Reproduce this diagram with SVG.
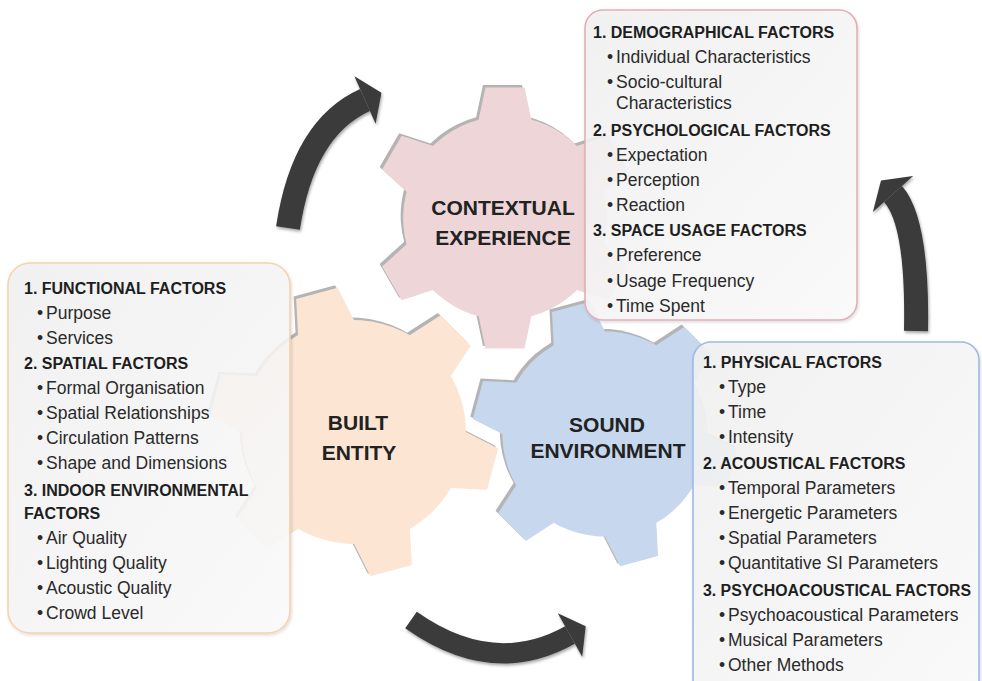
<svg xmlns="http://www.w3.org/2000/svg" xmlns:xlink="http://www.w3.org/1999/xlink" width="982" height="681" viewBox="0 0 982 681">
<style>
.h{font-family:"Liberation Sans",Arial,sans-serif;font-weight:bold;font-size:16px;fill:#1e1e1e}
.i{font-family:"Liberation Sans",Arial,sans-serif;font-size:17.5px;fill:#2a2a2a}
.g{font-family:"Liberation Sans",Arial,sans-serif;font-weight:bold;font-size:21px;fill:#222;text-anchor:middle}
.shaft{fill:none;stroke:#3a3a3a}
.head{fill:#3a3a3a}
.box{stroke-width:1.6}
</style>
<defs>
<g id="gear">
<circle r="108"/>
<polygon id="tooth" points="90,-31 138.5,-20.7 138.5,20.7 90,31"/>
<use href="#tooth" transform="rotate(60)"/>
<use href="#tooth" transform="rotate(120)"/>
<use href="#tooth" transform="rotate(180)"/>
<use href="#tooth" transform="rotate(240)"/>
<use href="#tooth" transform="rotate(300)"/>
</g>
<linearGradient id="boxfill" x1="0" y1="0" x2="1" y2="1">
<stop offset="0" stop-color="#f1f1f1"/>
<stop offset="1" stop-color="#fbfbfb"/>
</linearGradient>
<filter id="ash" x="-20%" y="-20%" width="140%" height="140%">
<feDropShadow dx="1" dy="2" stdDeviation="1.6" flood-color="#000" flood-opacity="0.35"/>
</filter>
<filter id="bsh" x="-5%" y="-5%" width="110%" height="110%">
<feDropShadow dx="1" dy="1.5" stdDeviation="1.5" flood-color="#000" flood-opacity="0.15"/>
</filter>
</defs>
<rect width="982" height="681" fill="#ffffff"/>

<g id="gear-contextual">
<use href="#gear" transform="translate(502.5,215.5) rotate(30) scale(0.943)" fill="#b4b4b4"/>
<use href="#gear" transform="translate(505,218) rotate(30) scale(0.943)" fill="#eed6d8"/>
<text class="g" x="503" y="215">CONTEXTUAL</text>
<text class="g" x="503" y="245">EXPERIENCE</text>
</g>

<g id="gear-built">
<use href="#gear" transform="translate(351.5,429.5) rotate(15) scale(1.036)" fill="#b4b4b4"/>
<use href="#gear" transform="translate(354,432) rotate(15) scale(1.036)" fill="#fce5d2"/>
<text class="g" x="358" y="430">BUILT</text>
<text class="g" x="359" y="460">ENTITY</text>
</g>

<g id="gear-sound">
<use href="#gear" transform="translate(602.5,431.5) rotate(15) scale(0.95)" fill="#b4b4b4"/>
<use href="#gear" transform="translate(605,434) rotate(15) scale(0.95)" fill="#c6d7ee"/>
<text class="g" x="607" y="432">SOUND</text>
<text class="g" x="608" y="458">ENVIRONMENT</text>
</g>

<g id="box-contextual">
<rect class="box" x="585" y="10" width="272" height="310" rx="18" fill="url(#boxfill)" fill-opacity="0.88" stroke="#e4adb6" filter="url(#bsh)"/>
<text class="h" x="593" y="38">1. DEMOGRAPHICAL FACTORS</text>
<text class="i" x="607" y="63">•<tspan x="616">Individual Characteristics</tspan></text>
<text class="i" x="607" y="88">•<tspan x="616">Socio-cultural</tspan></text>
<text class="i" x="616" y="109">Characteristics</text>
<text class="h" x="593" y="136">2. PSYCHOLOGICAL FACTORS</text>
<text class="i" x="607" y="161">•<tspan x="616">Expectation</tspan></text>
<text class="i" x="607" y="186">•<tspan x="616">Perception</tspan></text>
<text class="i" x="607" y="211">•<tspan x="616">Reaction</tspan></text>
<text class="h" x="593" y="236">3. SPACE USAGE FACTORS</text>
<text class="i" x="607" y="261">•<tspan x="616">Preference</tspan></text>
<text class="i" x="607" y="287">•<tspan x="616">Usage Frequency</tspan></text>
<text class="i" x="607" y="312">•<tspan x="616">Time Spent</tspan></text>
</g>

<g id="box-built">
<rect class="box" x="8" y="263" width="282" height="370" rx="22" fill="url(#boxfill)" fill-opacity="0.88" stroke="#f6d2ad" filter="url(#bsh)"/>
<text class="h" x="24" y="294">1. FUNCTIONAL FACTORS</text>
<text class="i" x="37" y="319">•<tspan x="46">Purpose</tspan></text>
<text class="i" x="37" y="344">•<tspan x="46">Services</tspan></text>
<text class="h" x="24" y="369">2. SPATIAL FACTORS</text>
<text class="i" x="37" y="394">•<tspan x="46">Formal Organisation</tspan></text>
<text class="i" x="37" y="419">•<tspan x="46">Spatial Relationships</tspan></text>
<text class="i" x="37" y="444">•<tspan x="46">Circulation Patterns</tspan></text>
<text class="i" x="37" y="469">•<tspan x="46">Shape and Dimensions</tspan></text>
<text class="h" x="24" y="496">3. INDOOR ENVIRONMENTAL</text>
<text class="h" x="24" y="519">FACTORS</text>
<text class="i" x="37" y="544">•<tspan x="46">Air Quality</tspan></text>
<text class="i" x="37" y="569">•<tspan x="46">Lighting Quality</tspan></text>
<text class="i" x="37" y="594">•<tspan x="46">Acoustic Quality</tspan></text>
<text class="i" x="37" y="619">•<tspan x="46">Crowd Level</tspan></text>
</g>

<g id="box-sound">
<rect class="box" x="693" y="342" width="286" height="360" rx="18" fill="url(#boxfill)" fill-opacity="0.88" stroke="#9dbbe3" filter="url(#bsh)"/>
<text class="h" x="703" y="368">1. PHYSICAL FACTORS</text>
<text class="i" x="719" y="393">•<tspan x="728">Type</tspan></text>
<text class="i" x="719" y="418">•<tspan x="728">Time</tspan></text>
<text class="i" x="719" y="443">•<tspan x="728">Intensity</tspan></text>
<text class="h" x="703" y="469">2. ACOUSTICAL FACTORS</text>
<text class="i" x="719" y="494">•<tspan x="728">Temporal Parameters</tspan></text>
<text class="i" x="719" y="519">•<tspan x="728">Energetic Parameters</tspan></text>
<text class="i" x="719" y="544">•<tspan x="728">Spatial Parameters</tspan></text>
<text class="i" x="719" y="569">•<tspan x="728">Quantitative SI Parameters</tspan></text>
<text class="h" x="703" y="596" textLength="268" lengthAdjust="spacingAndGlyphs">3. PSYCHOACOUSTICAL FACTORS</text>
<text class="i" x="719" y="621">•<tspan x="728">Psychoacoustical Parameters</tspan></text>
<text class="i" x="719" y="646">•<tspan x="728">Musical Parameters</tspan></text>
<text class="i" x="719" y="671">•<tspan x="728">Other Methods</tspan></text>
</g>

<g id="connectors" filter="url(#ash)">
<path class="shaft" stroke-width="24" d="M288,228 Q303,128 365,100"/>
<polygon class="head" points="354.4,76.3 381.4,92.7 375.6,123.7"/>
<path class="shaft" stroke-width="24" d="M916,331 Q918,222 893,194"/>
<polygon class="head" points="913.1,176 881,180.6 872.9,212"/>
<path class="shaft" stroke-width="20" d="M411,620 Q493,678 570,635"/>
<polygon class="head" points="557.8,613.2 585.7,626.2 582.2,656.8"/>
</g>
</svg>
